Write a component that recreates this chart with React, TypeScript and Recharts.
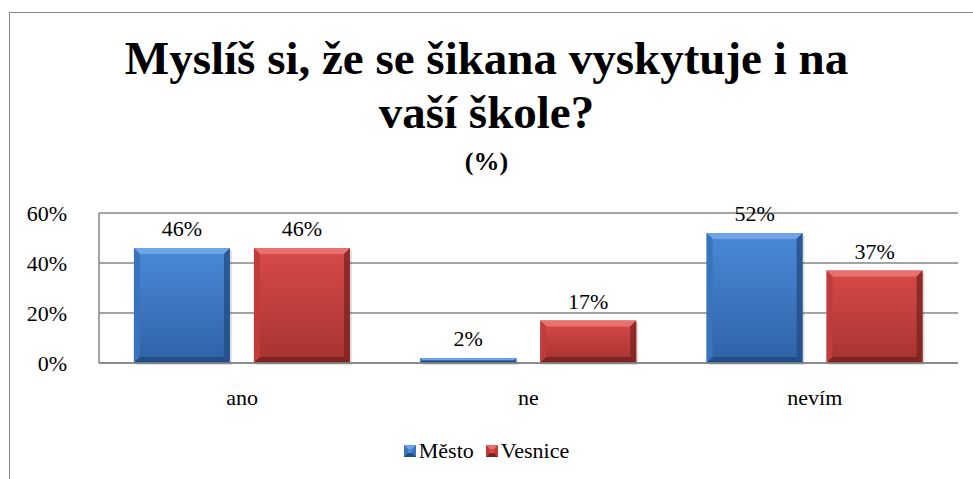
import { BarChart, Bar, XAxis, YAxis, CartesianGrid, LabelList } from "recharts";

const categories = ["ano", "ne", "nevím"];
const mesto = [46, 2, 52];
const vesnice = [46, 17, 37];

const data = categories.map((name, i) => ({ name, mesto: mesto[i], vesnice: vesnice[i] }));

const FONT = "Times New Roman, Tinos, Liberation Serif, serif";

const COLORS = {
  mesto: { top: "#4a8ad8", bottom: "#2f62a6", light: "#6fa5e6", dark: "#234d85", side: "#3a73bd" },
  vesnice: { top: "#d84a48", bottom: "#a53331", light: "#e87170", dark: "#7d2422", side: "#c03c3a" },
};

function Bevel(props: any) {
  const { x, y, width, height, kind } = props;
  if (!height || height <= 0) return null;
  const c = COLORS[kind as "mesto" | "vesnice"];
  const b = Math.min(6, height / 2, width / 2);
  const x2 = x + width;
  const y2 = y + height;
  return (
    <g>
      <rect x={x + 2} y={y + 2} width={width} height={height} fill="#000" opacity={0.12} />
      <rect x={x} y={y} width={width} height={height} fill={`url(#grad-${kind})`} />
      <polygon points={`${x},${y} ${x2},${y} ${x2 - b},${y + b} ${x + b},${y + b}`} fill={c.light} />
      <polygon points={`${x},${y} ${x + b},${y + b} ${x + b},${y2 - b} ${x},${y2}`} fill={c.side} />
      <polygon points={`${x2},${y} ${x2},${y2} ${x2 - b},${y2 - b} ${x2 - b},${y + b}`} fill={c.dark} opacity={0.8} />
      <polygon points={`${x},${y2} ${x + b},${y2 - b} ${x2 - b},${y2 - b} ${x2},${y2}`} fill={c.dark} />
    </g>
  );
}

function LegendSwatch({ kind }: { kind: "mesto" | "vesnice" }) {
  const c = COLORS[kind];
  return (
    <svg width={12} height={12} style={{ marginRight: 3, verticalAlign: "middle", position: "relative", top: -2 }}>
      <rect x={0} y={0} width={12} height={12} fill={c.side} />
      <polygon points="0,0 12,0 8,4 4,4" fill={c.light} />
      <polygon points="0,12 4,8 8,8 12,12" fill={c.dark} />
      <rect x={4} y={4} width={4} height={4} fill={c.top} />
    </svg>
  );
}

const tickStyle = { fontSize: 22, fill: "#000", fontFamily: FONT };

export default function App() {
  return (
    <div style={{ position: "absolute", left: 0, top: 0, width: 973, height: 479, background: "#fff", overflow: "hidden", fontFamily: FONT }}>
      {/* outer frame of the chart area */}
      <div style={{ position: "absolute", left: 9, top: 12, width: 980, height: 500, border: "1px solid #868686" }} />

      <div style={{ position: "absolute", left: 0, width: 973, top: 31, textAlign: "center", fontFamily: FONT, fontWeight: "bold", fontSize: 47, lineHeight: "54px", color: "#000" }}>
        Myslíš si, že se šikana vyskytuje i na
        <br />
        vaší škole?
      </div>
      <div style={{ position: "absolute", left: 0, width: 973, top: 147, textAlign: "center", fontFamily: FONT, fontWeight: "bold", fontSize: 26, color: "#000" }}>
        (%)
      </div>

      <div style={{ position: "absolute", left: 0, top: 0 }}>
        <BarChart
          width={973}
          height={479}
          data={data}
          margin={{ top: 213, right: 15, bottom: 76, left: 0 }}
          barGap={24}
          barCategoryGap="12.2%"
          style={{ fontFamily: FONT }}
        >
          <defs>
            <linearGradient id="grad-mesto" x1="0" y1="0" x2="0" y2="1">
              <stop offset="0%" stopColor={COLORS.mesto.top} />
              <stop offset="100%" stopColor={COLORS.mesto.bottom} />
            </linearGradient>
            <linearGradient id="grad-vesnice" x1="0" y1="0" x2="0" y2="1">
              <stop offset="0%" stopColor={COLORS.vesnice.top} />
              <stop offset="100%" stopColor={COLORS.vesnice.bottom} />
            </linearGradient>
          </defs>
          <CartesianGrid vertical={false} stroke="#868686" strokeWidth={1.5} />
          <XAxis
            dataKey="name"
            axisLine={{ stroke: "#868686", strokeWidth: 1.5 }}
            tickLine={false}
            height={40}
            tick={tickStyle}
            tickMargin={20}
          />
          <YAxis
            domain={[0, 60]}
            ticks={[0, 20, 40, 60]}
            width={99}
            axisLine={{ stroke: "#868686", strokeWidth: 1.5 }}
            tickLine={false}
            tickFormatter={(v) => `${v}%`}
            tick={tickStyle}
            tickMargin={26}
          />
          <Bar dataKey="mesto" isAnimationActive={false} shape={(p: any) => <Bevel {...p} kind="mesto" />}>
            <LabelList dataKey="mesto" position="top" offset={12} formatter={(v: any) => `${v}%`} fontFamily={FONT} fontSize={22} fill="#000" />
          </Bar>
          <Bar dataKey="vesnice" isAnimationActive={false} shape={(p: any) => <Bevel {...p} kind="vesnice" />}>
            <LabelList dataKey="vesnice" position="top" offset={12} formatter={(v: any) => `${v}%`} fontFamily={FONT} fontSize={22} fill="#000" />
          </Bar>
        </BarChart>
      </div>

      <div style={{ position: "absolute", left: 0, width: 973, top: 438, textAlign: "center", fontFamily: FONT, fontSize: 22, color: "#000" }}>
        <span style={{ marginRight: 12 }}>
          <LegendSwatch kind="mesto" />
          Město
        </span>
        <span>
          <LegendSwatch kind="vesnice" />
          Vesnice
        </span>
      </div>
    </div>
  );
}
